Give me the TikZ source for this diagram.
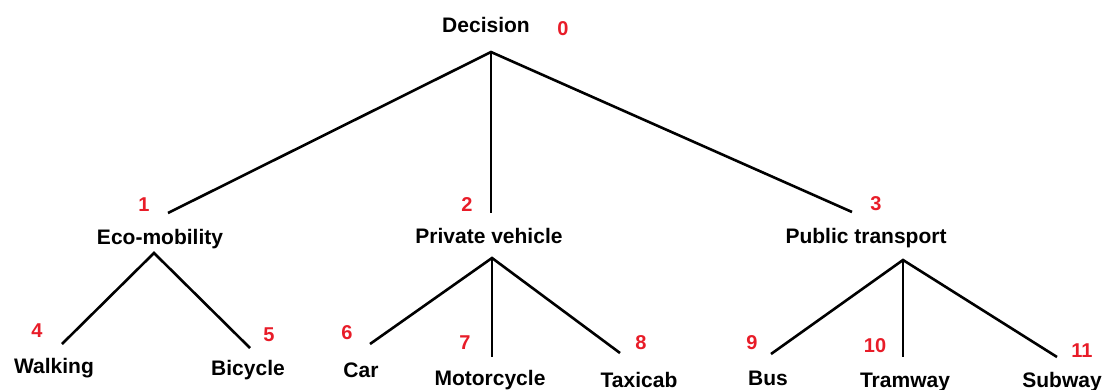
\documentclass[tikz,border=0pt]{standalone}
\usepackage{fontspec}
\setmainfont{Liberation Sans}
\definecolor{numred}{RGB}{232,28,40}
\begin{document}
\begin{tikzpicture}[x=1pt,y=-1pt,
  lbl/.style={anchor=base,inner sep=0pt,font=\fontsize{21}{25}\selectfont\bfseries},
  num/.style={anchor=base,inner sep=0pt,text=numred,font=\fontsize{20}{24}\selectfont\bfseries},
  link/.style={draw=black,line width=2.6pt,line cap=butt,line join=miter}]
\useasboundingbox (0,0) rectangle (1107,389);
% labels
\node[lbl] (dec) at (486,32) {Decision};
\node[lbl] (eco) at (160,244) {Eco-mobility};
\node[lbl] (priv) at (489,243) {Private vehicle};
\node[lbl] (pub) at (866,243) {Public transport};
\node[lbl] (walk) at (54,373) {Walking};
\node[lbl] (bic) at (248,375) {Bicycle};
\node[lbl] (car) at (361,377) {Car};
\node[lbl] (moto) at (490,385) {Motorcycle};
\node[lbl] (taxi) at (639,387) {Taxicab};
\node[lbl] (bus) at (768,385) {Bus};
\node[lbl] (tram) at (905,387) {Tramway};
\node[lbl] (sub) at (1062,387) {Subway};
% numbers
\node[num] (n0) at (563,35) {0};
\node[num] (n1) at (144,211) {1};
\node[num] (n2) at (467,211) {2};
\node[num] (n3) at (876,210) {3};
\node[num] (n4) at (37,337) {4};
\node[num] (n5) at (269,341) {5};
\node[num] (n6) at (347,339) {6};
\node[num] (n7) at (465,349) {7};
\node[num] (n8) at (641,349) {8};
\node[num] (n9) at (752,349) {9};
\node[num] (n10) at (875,352) {10};
\node[num] (n11) at (1082,357) {11};
% connector ends
\coordinate (dec-out) at (491,52);
\coordinate (eco-in) at (168,213);
\coordinate (priv-in) at (491,213);
\coordinate (pub-in) at (852,212);
\coordinate (eco-out) at (154,253);
\coordinate (priv-out) at (492,258);
\coordinate (pub-out) at (903,260);
\coordinate (walk-in) at (62,344);
\coordinate (bic-in) at (250,348);
\coordinate (car-in) at (370,344);
\coordinate (moto-in) at (492,357);
\coordinate (taxi-in) at (620,353);
\coordinate (bus-in) at (771,354);
\coordinate (tram-in) at (903,357);
\coordinate (sub-in) at (1057,357);
% connectors
\draw[link] (eco-in) -- (dec-out) -- (pub-in);
\draw[link] (dec-out) -- (priv-in);
\draw[link] (walk-in) -- (eco-out) -- (bic-in);
\draw[link] (car-in) -- (priv-out) -- (taxi-in);
\draw[link] (priv-out) -- (moto-in);
\draw[link] (bus-in) -- (pub-out) -- (sub-in);
\draw[link] (pub-out) -- (tram-in);
\end{tikzpicture}
\end{document}
